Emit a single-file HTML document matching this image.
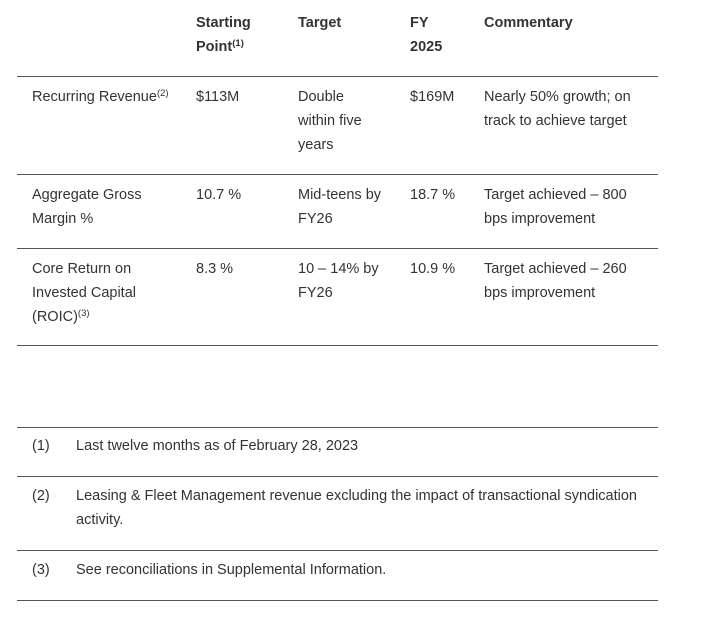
<!DOCTYPE html>
<html><head><style>
body{margin:0;width:702px;height:619px;background:#fff;position:relative;font-family:"Liberation Sans",sans-serif;font-size:14.5px;color:#333;}
.t{position:absolute;line-height:24px;white-space:nowrap;}
.b{font-weight:bold;}
.l{position:absolute;left:17px;width:641px;height:1px;background:#555;}
sup{font-size:9.5px;vertical-align:5px;line-height:0}
</style></head><body>
<div class="t b" style="left:196px;top:11px">Starting<br>Point<sup>(1)</sup></div>
<div class="t b" style="left:298px;top:11px">Target</div>
<div class="t b" style="left:410px;top:11px">FY<br>2025</div>
<div class="t b" style="left:484px;top:11px">Commentary</div>
<div class="l" style="top:76px"></div>
<div class="t" style="left:32px;top:85px">Recurring Revenue<sup>(2)</sup></div>
<div class="t" style="left:196px;top:85px">$113M</div>
<div class="t" style="left:298px;top:85px">Double<br>within five<br>years</div>
<div class="t" style="left:410px;top:85px">$169M</div>
<div class="t" style="left:484px;top:85px">Nearly 50% growth; on<br>track to achieve target</div>
<div class="l" style="top:174px"></div>
<div class="t" style="left:32px;top:183px">Aggregate Gross<br>Margin %</div>
<div class="t" style="left:196px;top:183px">10.7 %</div>
<div class="t" style="left:298px;top:183px">Mid-teens by<br>FY26</div>
<div class="t" style="left:410px;top:183px">18.7 %</div>
<div class="t" style="left:484px;top:183px">Target achieved – 800<br>bps improvement</div>
<div class="l" style="top:248px"></div>
<div class="t" style="left:32px;top:257px">Core Return on<br>Invested Capital<br>(ROIC)<sup>(3)</sup></div>
<div class="t" style="left:196px;top:257px">8.3 %</div>
<div class="t" style="left:298px;top:257px">10 – 14% by<br>FY26</div>
<div class="t" style="left:410px;top:257px">10.9 %</div>
<div class="t" style="left:484px;top:257px">Target achieved – 260<br>bps improvement</div>
<div class="l" style="top:345px"></div>
<div class="l" style="top:427px"></div>
<div class="t" style="left:32px;top:434px">(1)</div>
<div class="t" style="left:76px;top:434px">Last twelve months as of February 28, 2023</div>
<div class="l" style="top:476px"></div>
<div class="t" style="left:32px;top:484px">(2)</div>
<div class="t" style="left:76px;top:484px">Leasing &amp; Fleet Management revenue excluding the impact of transactional syndication<br>activity.</div>
<div class="l" style="top:550px"></div>
<div class="t" style="left:32px;top:558px">(3)</div>
<div class="t" style="left:76px;top:558px">See reconciliations in Supplemental Information.</div>
<div class="l" style="top:600px"></div>
</body></html>
